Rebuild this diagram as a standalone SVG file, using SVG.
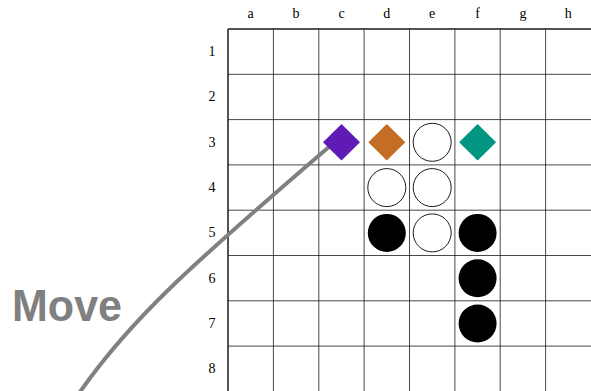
<svg xmlns="http://www.w3.org/2000/svg" width="591" height="391" viewBox="0 0 591 391">
<style>
.grid line{stroke:#1a1a1a;stroke-width:0.8}
.lbl{font-family:"Liberation Serif","DejaVu Serif",serif;font-size:14px;fill:#000;text-anchor:middle}
.w{fill:#fff;stroke:#000;stroke-width:0.9}
.b{fill:#000}
</style>
<rect width="591" height="391" fill="#fff"/>
<g id="board" class="grid">
<line x1="228" y1="29" x2="228" y2="391" style="stroke-width:1.5"/>
<line x1="273.4" y1="29" x2="273.4" y2="391"/>
<line x1="318.8" y1="29" x2="318.8" y2="391"/>
<line x1="364.1" y1="29" x2="364.1" y2="391"/>
<line x1="409.5" y1="29" x2="409.5" y2="391"/>
<line x1="454.9" y1="29" x2="454.9" y2="391"/>
<line x1="500.2" y1="29" x2="500.2" y2="391"/>
<line x1="545.6" y1="29" x2="545.6" y2="391"/>
<line x1="228" y1="29" x2="591" y2="29" style="stroke-width:1.5"/>
<line x1="228" y1="74.3" x2="591" y2="74.3"/>
<line x1="228" y1="119.6" x2="591" y2="119.6"/>
<line x1="228" y1="164.9" x2="591" y2="164.9"/>
<line x1="228" y1="210.2" x2="591" y2="210.2"/>
<line x1="228" y1="255.5" x2="591" y2="255.5"/>
<line x1="228" y1="300.8" x2="591" y2="300.8"/>
<line x1="228" y1="346.1" x2="591" y2="346.1"/>
</g>
<g id="col-labels">
<text class="lbl" x="250.7" y="18">a</text>
<text class="lbl" x="296.1" y="18">b</text>
<text class="lbl" x="341.5" y="18">c</text>
<text class="lbl" x="386.8" y="18">d</text>
<text class="lbl" x="432.2" y="18">e</text>
<text class="lbl" x="477.6" y="18">f</text>
<text class="lbl" x="522.9" y="18">g</text>
<text class="lbl" x="568.3" y="18">h</text>
</g>
<g id="row-labels">
<text class="lbl" x="212" y="56">1</text>
<text class="lbl" x="212" y="101.3">2</text>
<text class="lbl" x="212" y="146.6">3</text>
<text class="lbl" x="212" y="191.9">4</text>
<text class="lbl" x="212" y="237.2">5</text>
<text class="lbl" x="212" y="282.5">6</text>
<text class="lbl" x="212" y="327.8">7</text>
<text class="lbl" x="212" y="373.1">8</text>
</g>
<g id="connectors">
<path d="M80 392 C130 320 190 266 330 146" fill="none" stroke="#808080" stroke-width="4"/>
</g>
<g id="move-label">
<text x="12" y="321" font-family="Liberation Sans, Arial, sans-serif" font-weight="bold" font-size="44" fill="#808080" textLength="110" lengthAdjust="spacingAndGlyphs">Move</text>
</g>
<g id="piece-c3"><polygon points="341.5,124 360,142.3 341.5,160.6 323,142.3" fill="#601bb6"/></g>
<g id="piece-d3"><polygon points="386.8,124 405.3,142.3 386.8,160.6 368.3,142.3" fill="#c46d25"/></g>
<g id="piece-e3"><circle class="w" cx="432.2" cy="142.3" r="19"/></g>
<g id="piece-f3"><polygon points="477.6,124 496.1,142.3 477.6,160.6 459.1,142.3" fill="#009682"/></g>
<g id="piece-d4"><circle class="w" cx="386.8" cy="187.6" r="19"/></g>
<g id="piece-e4"><circle class="w" cx="432.2" cy="187.6" r="19"/></g>
<g id="piece-d5"><circle class="b" cx="386.8" cy="232.9" r="19"/></g>
<g id="piece-e5"><circle class="w" cx="432.2" cy="232.9" r="19"/></g>
<g id="piece-f5"><circle class="b" cx="477.6" cy="232.9" r="19"/></g>
<g id="piece-f6"><circle class="b" cx="477.6" cy="278.2" r="19"/></g>
<g id="piece-f7"><circle class="b" cx="477.6" cy="323.5" r="19"/></g>
</svg>
